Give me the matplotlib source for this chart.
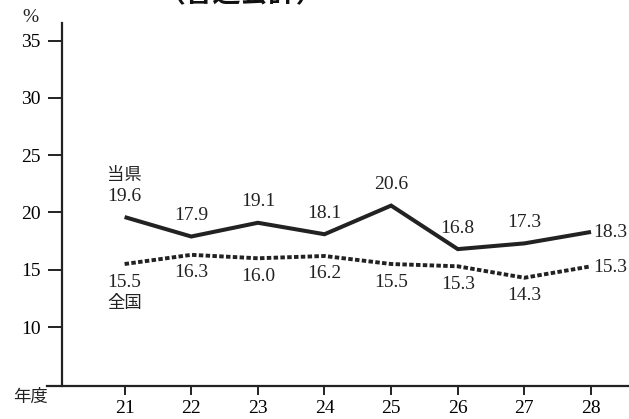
import matplotlib
matplotlib.use("Agg")
import matplotlib.pyplot as plt
from matplotlib.lines import Line2D

years = [21, 22, 23, 24, 25, 26, 27, 28]
pref = [19.6, 17.9, 19.1, 18.1, 20.6, 16.8, 17.3, 18.3]
national = [15.5, 16.3, 16.0, 16.2, 15.5, 15.3, 14.3, 15.3]
yticks = [10, 15, 20, 25, 30, 35]

W, H = 629, 419
fig = plt.figure(figsize=(W / 100, H / 100), dpi=100)
fig.patch.set_facecolor("white")

num_font = dict(family=["Liberation Serif", "DejaVu Serif"], size=14)
cjk_font = dict(family=["Noto Sans CJK JP", "DejaVu Sans"], size=12.5)

left = 61.7 / W
bottom = (H - 386) / H
top = (H - 23) / H
ax = fig.add_axes([left, bottom, 1.0 - left, top - bottom])
ax.set_xlim(20.056, 28.57)
ax.set_ylim(4.85, 36.54)

col = "#222222"
ax.plot(years, pref, color=col, lw=2.9, solid_joinstyle="miter", solid_capstyle="butt")
ax.plot(years, national, color=col, lw=2.8, linestyle=(0, (1.15, 0.6)), dash_capstyle="butt")

for s in ["top", "right", "bottom"]:
    ax.spines[s].set_visible(False)
ax.spines["left"].set_linewidth(1.6)
ax.spines["left"].set_color(col)

# x-axis line extended left of y axis
fig.add_artist(Line2D([46.7 / W, 1.0], [bottom, bottom], color=col, lw=1.6,
                      transform=fig.transFigure))

ax.set_yticks(yticks)
ax.set_yticklabels([str(v) for v in yticks], fontdict=num_font)
ax.set_xticks(years)
ax.set_xticklabels([str(v) for v in years], fontdict=num_font)
ax.tick_params(axis="y", direction="out", length=10, width=1.4, color=col, pad=5)
ax.tick_params(axis="x", direction="out", length=6.5, width=1.4, color=col, pad=3.5)

# value labels
for i, (x, v) in enumerate(zip(years, pref)):
    if i == len(years) - 1:
        ax.annotate(f"{v:.1f}", (x, v), xytext=(2, -1), textcoords="offset pixels",
                    ha="left", va="center", color=col, **num_font)
    else:
        ax.annotate(f"{v:.1f}", (x, v), xytext=(0, 21), textcoords="offset pixels",
                    ha="center", va="center", color=col, **num_font)
for i, (x, v) in enumerate(zip(years, national)):
    if i == len(years) - 1:
        ax.annotate(f"{v:.1f}", (x, v), xytext=(2, -1), textcoords="offset pixels",
                    ha="left", va="center", color=col, **num_font)
    else:
        ax.annotate(f"{v:.1f}", (x, v), xytext=(0, -18), textcoords="offset pixels",
                    ha="center", va="center", color=col, **num_font)

# series names
ax.annotate("当県", (years[0], pref[0]), xytext=(0, 42), textcoords="offset pixels",
            ha="center", va="center", color=col, **cjk_font)
ax.annotate("全国", (years[0], national[0]), xytext=(0, -39), textcoords="offset pixels",
            ha="center", va="center", color=col, **cjk_font)

# axis unit labels
fig.text(30 / W, 1 - 17 / H, "%", ha="center", va="center", color=col, **num_font)
fig.text(31 / W, 1 - 397 / H, "年度", ha="center", va="center", color=col, **cjk_font)

# cut-off title
fig.text(158 / W, 1 - 1 / H, "（普通会計）", ha="left", va="baseline", color="#111111",
         family=["Noto Sans CJK JP", "DejaVu Sans"], fontsize=20, fontweight="bold")

fig.savefig("out.png", dpi=100, facecolor="white")
